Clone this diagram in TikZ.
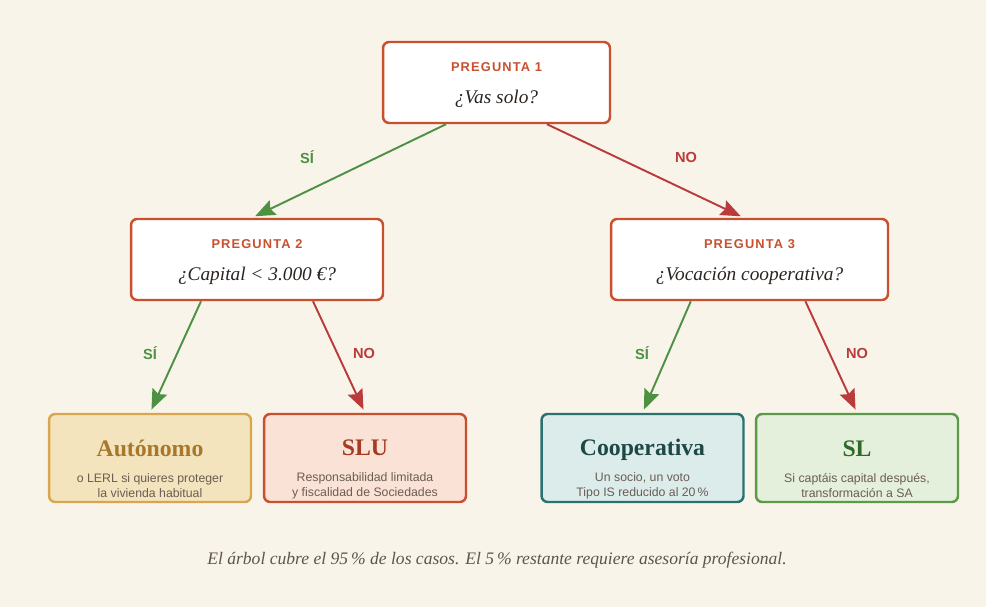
\documentclass[tikz,border=0pt]{standalone}
\usepackage{fontspec}
\setmainfont{Liberation Serif}
\setsansfont{Liberation Sans}
\newfontfamily\tagfont[LetterSpace=9]{Liberation Sans}
\usetikzlibrary{arrows.meta}
\usetikzlibrary{calc}
\definecolor{fondo}{HTML}{F9F4EA}
\definecolor{teja}{HTML}{C8502F}
\definecolor{tinta}{HTML}{2B2521}
\definecolor{gris}{HTML}{6A5D54}
\definecolor{verde}{HTML}{4E9143}
\definecolor{rojo}{HTML}{B93B3B}
\definecolor{ocre}{HTML}{D8A64F}
\definecolor{ocreF}{HTML}{F3E4BD}
\definecolor{ocreT}{HTML}{A7772C}
\definecolor{salmonF}{HTML}{FBE2D6}
\definecolor{salmonT}{HTML}{A43B22}
\definecolor{petroleo}{HTML}{2A7272}
\definecolor{petroleoF}{HTML}{DCECEA}
\definecolor{petroleoT}{HTML}{1D4845}
\definecolor{hoja}{HTML}{5C9A4A}
\definecolor{hojaF}{HTML}{E5F0DC}
\definecolor{hojaT}{HTML}{2E6A29}
\tikzset{
  pregunta/.style={draw=teja, line width=1.4pt, fill=white, rounded corners=3.5pt,
    minimum width=#1, minimum height=1.62cm, align=center, inner sep=0pt,
    text=tinta, font=\itshape\fontsize{11}{13}\selectfont},
  final/.style 2 args={draw=#1, fill=#2, line width=1.4pt, rounded corners=3.5pt,
    minimum width=4.04cm, minimum height=1.76cm, align=center, inner sep=0pt,
    text=gris, font=\sffamily\fontsize{7}{8.6}\selectfont},
  si/.style={draw=verde, line width=1.1pt, shorten >=0.7mm,
    -{Stealth[length=4mm,width=3.2mm,inset=0.6mm]}},
  no/.style={draw=rojo, line width=1.1pt, shorten >=0.7mm,
    -{Stealth[length=4mm,width=3.2mm,inset=0.6mm]}},
  rama/.style={font=\sffamily\bfseries\fontsize{8.3}{9}\selectfont, text=#1},
}
\newcommand{\tagtxt}{\upshape\tagfont\bfseries\fontsize{7.3}{8}\selectfont\color{teja}\rule{0pt}{8pt}}
\newcommand{\titulo}[1]{\rmfamily\bfseries\fontsize{13.5}{15}\selectfont\color{#1}\rule{0pt}{22pt}}

\begin{document}
\begin{tikzpicture}[x=0.02cm, y=-0.02cm]
		\useasboundingbox (0,0) rectangle (986,607);
		\fill[fondo] (0,0) rectangle (986,607);
		% preguntas
		\node[pregunta=4.54cm] (q1) at (496.5,82.5) {\tagtxt PREGUNTA 1\\[5pt]¿Vas solo?};
		\node[pregunta=5.04cm] (q2) at (257,259.5) {\tagtxt PREGUNTA 2\\[5pt]¿Capital < 3.000 €?};
		\node[pregunta=5.54cm] (q3) at (749.5,259.5) {\tagtxt PREGUNTA 3\\[5pt]¿Vocación cooperativa?};
		% resultados
		\node[final={ocre}{ocreF}] (aut) at (150,458) {\titulo{ocreT}Autónomo\\[6pt]o LERL si quieres proteger\\la vivienda habitual};
		\node[final={teja}{salmonF}] (slu) at (365,458) {\titulo{salmonT}SLU\\[6pt]Responsabilidad limitada\\y fiscalidad de Sociedades};
		\node[final={petroleo}{petroleoF}] (coop) at (642.5,458) {\titulo{petroleoT}Cooperativa\\[6pt]Un socio, un voto\\Tipo IS reducido al 20\,\%};
		\node[final={hoja}{hojaF}] (sl) at (857,458) {\titulo{hojaT}SL\\[6pt]Si captáis capital después,\\transformación a SA};
		% ramas
		\draw[si] ($(q1.south west)!0.28!(q1.south east)$) -- ($(q2.north west)!0.48!(q2.north east)$);
		\draw[no] ($(q1.south west)!0.72!(q1.south east)$) -- ($(q3.north west)!0.48!(q3.north east)$);
		\draw[si] ($(q2.south west)!0.28!(q2.south east)$) -- (aut.north);
		\draw[no] ($(q2.south west)!0.72!(q2.south east)$) -- (slu.north);
		\draw[si] ($(q3.south west)!0.29!(q3.south east)$) -- (coop.north);
		\draw[no] ($(q3.south west)!0.70!(q3.south east)$) -- (sl.north);
		\node[rama=verde] (s1) at (307,157) {SÍ};
		\node[rama=rojo] (n1) at (686,157) {NO};
		\node[rama=verde] (s2) at (150,353) {SÍ};
		\node[rama=rojo] (n2) at (364,353) {NO};
		\node[rama=verde] (s3) at (642,353) {SÍ};
		\node[rama=rojo] (n3) at (857,353) {NO};
		%
		\node[text=gris!90!black, font=\itshape\fontsize{10}{12}\selectfont] (pie) at (497,560) {El árbol cubre el 95\,\% de los casos. El 5\,\% restante requiere asesoría profesional.};
	\end{tikzpicture}
\end{document}
